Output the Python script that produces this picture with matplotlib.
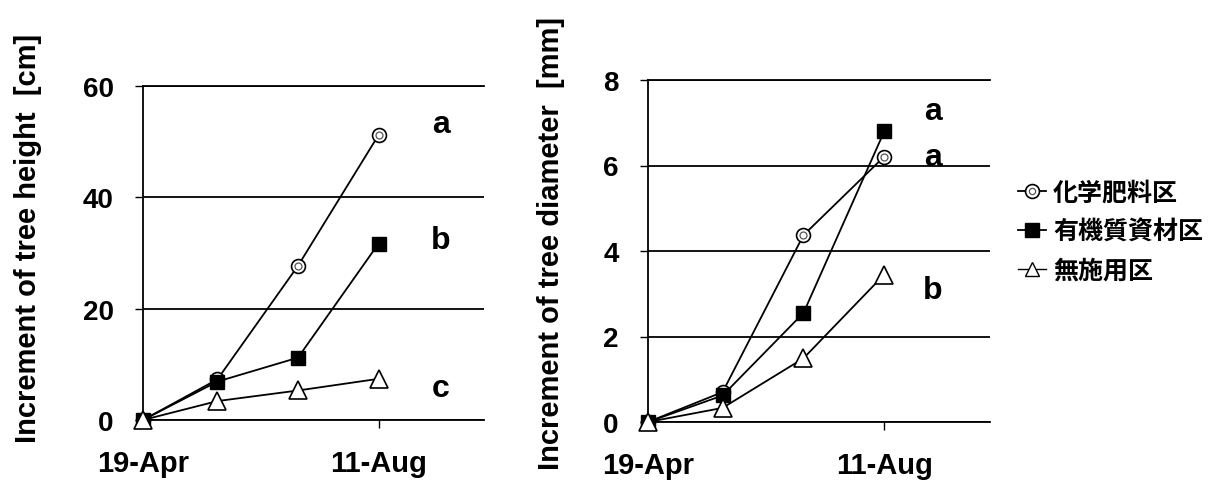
import matplotlib
matplotlib.use("Agg")
import matplotlib.pyplot as plt
from matplotlib.lines import Line2D
from matplotlib.legend_handler import HandlerTuple

plt.rcParams['font.family'] = ['Liberation Sans', 'Noto Sans CJK JP', 'DejaVu Sans']
plt.rcParams['font.weight'] = 'bold'

# days after 19-Apr
days = [0, 36, 75, 114]
tick_days = [0, 114]
tick_labels = ["19-Apr", "11-Aug"]
series_names = ["化学肥料区", "有機質資材区", "無施用区"]

height_chem = [0, 7.3, 27.7, 51.2]
height_org = [0, 6.9, 11.2, 31.7]
height_none = [0, 3.4, 5.3, 7.4]

diam_chem = [0, 0.7, 4.37, 6.21]
diam_org = [0, 0.62, 2.55, 6.8]
diam_none = [0, 0.33, 1.49, 3.45]

height_letters = ["a", "b", "c"]
height_letter_y = [53.1, 32.3, 5.8]
diam_letters = ["a", "a", "b"]
diam_letter_y = [7.28, 6.2, 3.08]

W, H = 1213, 481
fig = plt.figure(figsize=(W / 100, H / 100), dpi=100)
ax1 = fig.add_axes([143 / W, (H - 421) / H, 341 / W, 334 / H])
ax2 = fig.add_axes([648 / W, (H - 423) / H, 342 / W, 342 / H])


def draw_series(ax, chem, org, none):
    ax.plot(days, chem, color='black', lw=1.3, marker='o', ms=10,
            mfc='white', mec='black', mew=1.2, zorder=3, clip_on=False)
    ax.plot(days, chem, ls='none', marker='o', ms=5, mfc='none',
            mec='#555555', mew=0.9, zorder=3, clip_on=False)
    ax.plot(days, org, color='black', lw=1.3, marker='s', ms=10,
            mfc='black', mec='black', zorder=4, clip_on=False)
    ax.plot(days, none, color='black', lw=1.3, marker='^', ms=13,
            mfc='white', mec='black', mew=1.2, zorder=5, clip_on=False)


def style_axis(ax, ymax, ystep):
    ax.set_xlim(0, 165)
    ax.set_ylim(0, ymax)
    ax.set_yticks(range(0, ymax + 1, ystep))
    ax.set_xticks(tick_days)
    ax.set_xticklabels(tick_labels)
    for s in ['top', 'right']:
        ax.spines[s].set_visible(False)
    ax.spines['left'].set_linewidth(1.3)
    ax.spines['bottom'].set_linewidth(1.3)
    ax.yaxis.grid(True, color='black', lw=1.3)
    ax.set_axisbelow(True)
    ax.tick_params(axis='y', direction='out', length=6, width=1.0,
                   labelsize=20, pad=15)
    ax.tick_params(axis='x', direction='out', length=6, width=1.0,
                   labelsize=21, pad=15)
    ax.axhline(ymax, color='black', lw=1.3, clip_on=False)


draw_series(ax1, height_chem, height_org, height_none)
style_axis(ax1, 60, 20)
for t, y in zip(height_letters, height_letter_y):
    ax1.text(144, y, t, fontsize=23, fontweight='bold', ha='center', va='center')

draw_series(ax2, diam_chem, diam_org, diam_none)
style_axis(ax2, 8, 2)
for t, y in zip(diam_letters, diam_letter_y):
    ax2.text(137.5, y, t, fontsize=23, fontweight='bold', ha='center', va='center')

fig.text(28 / W, 1 - 238 / H, "Increment of tree height  [cm]", rotation=90,
         fontsize=21, fontweight='bold', ha='center', va='center')
fig.text(551 / W, 1 - 243 / H, "Increment of tree diameter  [mm]", rotation=90,
         fontsize=21, fontweight='bold', ha='center', va='center')

# legend handles
h_chem = (Line2D([], [], color='black', lw=1.3, marker='o', ms=10, mfc='white',
                 mec='black', mew=1.2),
          Line2D([], [], ls='none', marker='o', ms=4.5, mfc='none', mec='#555555', mew=0.9))
h_org = Line2D([], [], color='black', lw=1.3, marker='s', ms=10, mfc='black', mec='black')
h_none = Line2D([], [], color='black', lw=1.0, marker='^', ms=10, mfc='white',
                mec='black', mew=1.0)

fig.legend([h_chem, h_org, h_none], series_names,
           handler_map={tuple: HandlerTuple(ndivide=1)},
           loc='center left', bbox_to_anchor=(1018 / W, 1 - 233 / H),
           frameon=False, borderpad=0, borderaxespad=0,
           handlelength=1.1, handletextpad=0.3, labelspacing=0.6,
           prop={'family': ['Noto Sans CJK JP', 'DejaVu Sans'], 'weight': 'bold', 'size': 18})

fig.savefig("out.png", dpi=100)
